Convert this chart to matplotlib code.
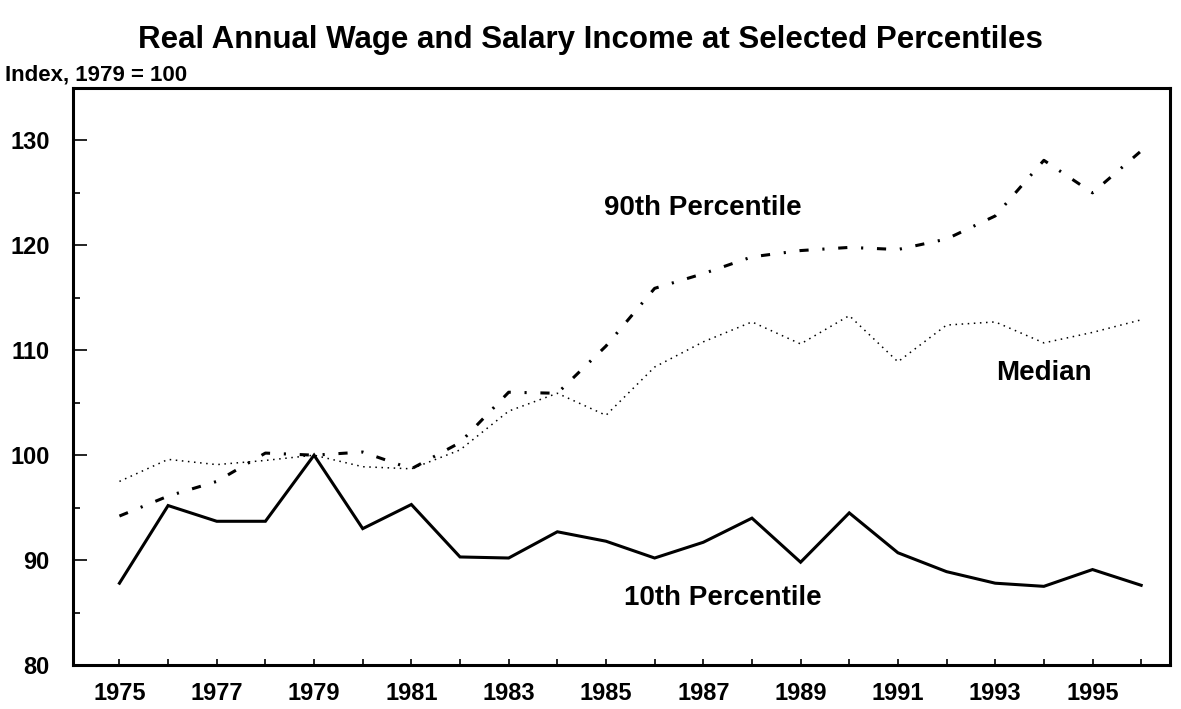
import matplotlib
matplotlib.use('Agg')
import matplotlib.pyplot as plt
from matplotlib.ticker import MultipleLocator

years = list(range(1975, 1997))

p10 = [87.8, 95.2, 93.7, 93.7, 100.0, 93.0, 95.3, 90.3, 90.2, 92.7, 91.8,
       90.2, 91.7, 94.0, 89.8, 94.5, 90.7, 88.9, 87.8, 87.5, 89.1, 87.6]
p90 = [94.2, 96.1, 97.5, 100.2, 100.0, 100.3, 98.7, 101.2, 106.0, 105.9, 110.4,
       115.9, 117.3, 118.9, 119.5, 119.8, 119.6, 120.6, 122.8, 128.1, 125.0, 129.0]
median = [97.5, 99.6, 99.1, 99.5, 100.0, 98.9, 98.7, 100.5, 104.2, 105.9, 103.8,
          108.4, 110.8, 112.7, 110.6, 113.3, 108.9, 112.4, 112.7, 110.7, 111.7, 112.9]

tick_years = list(range(1975, 1996, 2))
y_ticks = [80, 90, 100, 110, 120, 130]

plt.rcParams['font.family'] = ['Liberation Sans', 'DejaVu Sans']
plt.rcParams['font.weight'] = 'bold'

fig = plt.figure(figsize=(11.81, 7.09), dpi=100)
ax = fig.add_axes([0.062, 0.062, 0.929, 0.814])

ax.plot(years, p10, color='black', linewidth=2.2, solid_joinstyle='miter')
ax.plot(years, p90, color='black', linewidth=2.2, dashes=(3, 4.5, 0.7, 4.5))
ax.plot(years, median, color='black', linewidth=1.1, dashes=(1, 3))

ax.set_xlim(1974.05, 1996.6)
ax.set_ylim(80, 135)
ax.set_xticks(tick_years)
ax.set_xticklabels([str(y) for y in tick_years], fontweight='bold')
ax.xaxis.set_minor_locator(MultipleLocator(1))
ax.set_yticks(y_ticks)
ax.set_yticklabels([str(v) for v in y_ticks], fontweight='bold')
ax.yaxis.set_minor_locator(MultipleLocator(5))

ax.tick_params(axis='both', which='both', direction='in', labelsize=17, width=1.2)
ax.tick_params(axis='y', which='major', length=10)
ax.tick_params(axis='y', which='minor', length=5)
ax.tick_params(axis='x', which='both', length=4)
ax.tick_params(axis='x', pad=12)
ax.tick_params(axis='y', pad=17)

for s in ax.spines.values():
    s.set_linewidth(2.2)

ax.text(1987.0, 123.6, '90th Percentile', fontsize=20, ha='center', va='center')
ax.text(1994.0, 107.8, 'Median', fontsize=20, ha='center', va='center')
ax.text(1987.4, 86.35, '10th Percentile', fontsize=20, ha='center', va='center')

fig.text(0.5, 0.944, 'Real Annual Wage and Salary Income at Selected Percentiles',
         fontsize=22.5, ha='center', va='center')
fig.text(0.004, 0.894, 'Index, 1979 = 100', fontsize=16, ha='left', va='center')

fig.savefig('out.png', dpi=100)
